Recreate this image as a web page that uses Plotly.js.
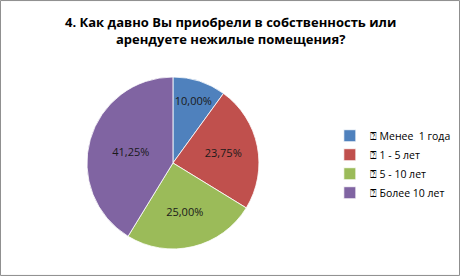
<!DOCTYPE html>
<html><head><meta charset="utf-8">
<script src="https://cdn.plot.ly/plotly-3.0.1.min.js"></script>
<style>html,body{margin:0;padding:0;background:#fff}</style>
</head><body><div id="chart" style="width:460px;height:276px"></div>
<script>
const categories = ["⍰ Менее  1 года", "⍰ 1 - 5 лет", "⍰ 5 - 10 лет", "⍰ Более 10 лет"];
const shares = [10.00, 23.75, 25.00, 41.25];
const colors = ["#4f81bd", "#c0504d", "#9bbb59", "#8064a2"];
const labelsText = shares.map(v => v.toFixed(2).replace('.', ',') + '%');
const titleText = '<b>4. Как давно Вы приобрели в собственность или<br>арендуете нежилые помещения?</b>';

Plotly.newPlot('chart', [{
  type: 'pie',
  labels: categories,
  values: shares,
  text: labelsText,
  textinfo: 'text',
  textposition: 'inside',
  insidetextorientation: 'horizontal',
  sort: false,
  direction: 'clockwise',
  rotation: 0,
  marker: {colors: colors, line: {color: '#ffffff', width: 0.8}},
  textfont: {family: 'Open Sans, Liberation Sans, sans-serif', size: 11, color: '#1a1a1a'},
  domain: {x: [0.189, 0.563], y: [0.098, 0.721]},
  hoverinfo: 'none'
}], {
  width: 460, height: 276,
  margin: {l: 0, r: 0, t: 0, b: 0, autoexpand: false},
  paper_bgcolor: '#ffffff',
  showlegend: true,
  legend: {
    x: 0.717, y: 0.405, xanchor: 'left', yanchor: 'middle',
    font: {family: 'Open Sans, Liberation Sans, sans-serif', size: 10.5, color: '#000'},
    itemwidth: 30
  },
  annotations: [{
    text: titleText, xref: 'paper', yref: 'paper', x: 0.5, y: 0.96,
    xanchor: 'center', yanchor: 'top', showarrow: false, align: 'center',
    font: {family: 'Open Sans, Liberation Sans, sans-serif', size: 13, color: '#000'}
  }],
  shapes: [{type: 'rect', xref: 'paper', yref: 'paper', x0: 0.001, x1: 0.999, y0: 0.002, y1: 0.998,
    line: {color: '#8c8c8c', width: 1}}]
}, {staticPlot: true});
</script></body></html>
